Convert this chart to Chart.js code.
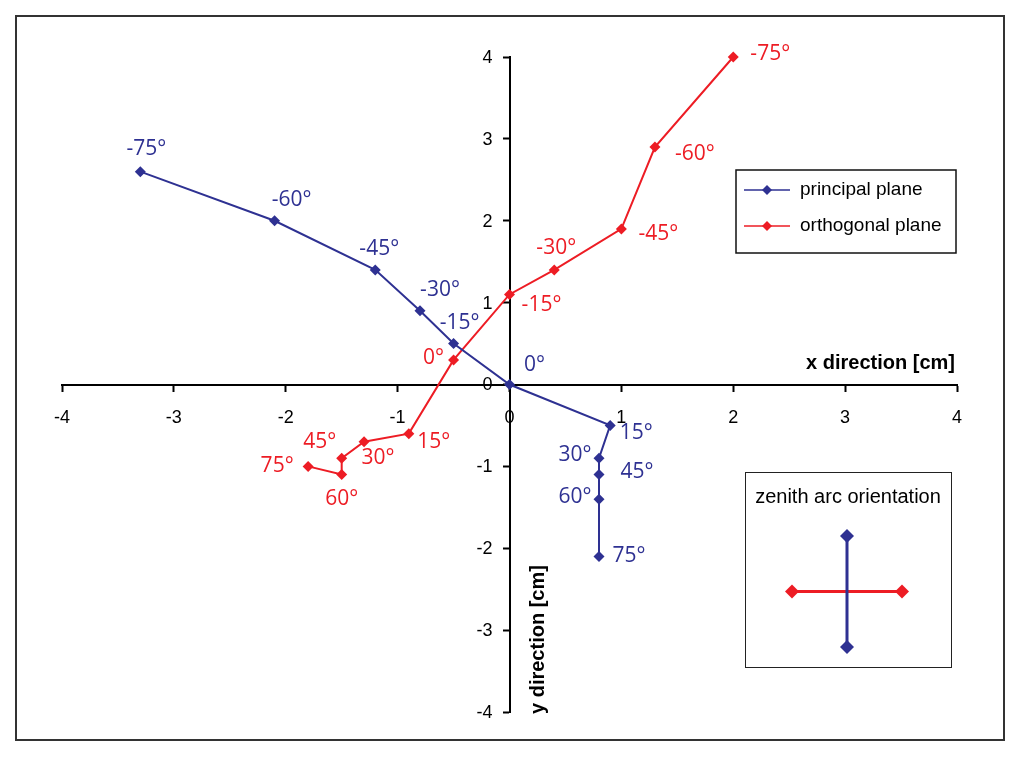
<!DOCTYPE html>
<html>
<head>
<meta charset="utf-8">
<script src="https://cdn.jsdelivr.net/npm/chart.js@4"></script>
<style>
body{margin:0;background:#fff;}
#wrap{position:relative;width:1024px;height:764px;}
#frame{position:absolute;left:15px;top:15px;width:990px;height:726px;border:2px solid #333;box-sizing:border-box;pointer-events:none;}
#inset{position:absolute;left:745px;top:472px;width:207px;height:196px;border:1.5px solid #222;box-sizing:border-box;background:#fff;}
canvas{display:block;}
</style>
</head>
<body>
<div id="wrap">
  <canvas id="main" width="1024" height="764"></canvas>
  <div id="frame"></div>
  <div id="inset"><canvas id="insetChart" width="204" height="193"></canvas></div>
</div>
<script>
// angulos de cada punto
const angulos = ['-75°','-60°','-45°','-30°','-15°','0°','15°','30°','45°','60°','75°'];

// principal plane
const principalX = [-3.3, -2.1, -1.2, -0.8, -0.5, 0, 0.9, 0.8, 0.8, 0.8, 0.8];
const principalY = [2.6, 2.0, 1.4, 0.9, 0.5, 0, -0.5, -0.9, -1.1, -1.4, -2.1];

// orthogonal plane
const orthoX = [2.0, 1.3, 1.0, 0.4, 0, -0.5, -0.9, -1.3, -1.5, -1.5, -1.8];
const orthoY = [4.0, 2.9, 1.9, 1.4, 1.1, 0.3, -0.6, -0.7, -0.9, -1.1, -1.0];

const ejeTicks = [-4, -3, -2, -1, 0, 1, 2, 3, 4];

// inset: zenith arc orientation
const insetPrincipal = [{x: 0, y: 1}, {x: 0, y: -1}];
const insetOrtho = [{x: -1, y: 0}, {x: 1, y: 0}];

// desplazamiento de las etiquetas (px)
const offPrincipal = [[6,-23],[17,-21],[4,-21],[20,-21],[6,-21],[25,-19],[26,8],[-24,-3],[38,-3],[-24,-2],[30,0]];
const offOrtho = [[37,-3],[40,7],[37,5],[2,-22],[32,11],[-20,-2],[25,8],[14,16],[-22,-16],[0,24],[-31,0]];

const AZUL = '#2E3192';
const ROJO = '#ED1C24';

function puntos(xs, ys) {
  return xs.map((x, i) => ({x: x, y: ys[i]}));
}

const etiquetasPlugin = {
  id: 'etiquetas',
  afterDatasetsDraw(chart) {
    const ctx = chart.ctx;
    ctx.save();
    ctx.font = '21px "Open Sans"';
    ctx.textAlign = 'center';
    ctx.textBaseline = 'middle';
    chart.data.datasets.forEach((ds, d) => {
      const meta = chart.getDatasetMeta(d);
      const offs = d === 0 ? offPrincipal : offOrtho;
      ctx.fillStyle = ds.borderColor;
      meta.data.forEach((p, i) => {
        ctx.fillText(angulos[i], p.x + offs[i][0], p.y + offs[i][1]);
      });
    });
    ctx.restore();
  }
};

const extrasPlugin = {
  id: 'extras',
  afterDraw(chart) {
    const ctx = chart.ctx;
    const a = chart.chartArea;
    const sx = chart.scales.x, sy = chart.scales.y;
    const x0 = sx.getPixelForValue(0), y0 = sy.getPixelForValue(0);
    ctx.save();
    // etiquetas del eje y (a la izquierda del eje)
    ctx.fillStyle = '#000';
    ctx.font = '18px "Liberation Sans"';
    ctx.textAlign = 'right';
    ctx.textBaseline = 'middle';
    sy.ticks.forEach(t => {
      ctx.fillText(String(t.value), x0 - 17, sy.getPixelForValue(t.value) + 1);
    });
    // titulos de ejes
    ctx.font = 'bold 20px "Liberation Sans"';
    ctx.fillText('x direction [cm]', a.right - 2, y0 - 21);
    ctx.translate(x0 + 29, a.bottom + 2);
    ctx.rotate(-Math.PI / 2);
    ctx.textAlign = 'left';
    ctx.fillText('y direction [cm]', 0, 0);
    ctx.restore();

    // leyenda
    ctx.save();
    const bx = a.right - 221, by = a.top + 113, bw = 220, bh = 83;
    ctx.strokeStyle = '#111';
    ctx.lineWidth = 1.5;
    ctx.strokeRect(bx, by, bw, bh);
    ctx.font = '19px "Liberation Sans"';
    ctx.textAlign = 'left';
    ctx.textBaseline = 'middle';
    chart.data.datasets.forEach((ds, i) => {
      const yy = by + 20 + i * 36;
      ctx.strokeStyle = ds.borderColor;
      ctx.lineWidth = 1.5;
      ctx.beginPath();
      ctx.moveTo(bx + 8, yy);
      ctx.lineTo(bx + 54, yy);
      ctx.stroke();
      ctx.fillStyle = ds.borderColor;
      ctx.beginPath();
      ctx.moveTo(bx + 31, yy - 5);
      ctx.lineTo(bx + 36, yy);
      ctx.lineTo(bx + 31, yy + 5);
      ctx.lineTo(bx + 26, yy);
      ctx.closePath();
      ctx.fill();
      ctx.fillStyle = '#000';
      ctx.fillText(ds.label, bx + 64, yy);
    });
    ctx.restore();
  }
};

function escala(pos, mostrar) {
  return {
    type: 'linear',
    min: -4,
    max: 4,
    position: pos,
    afterBuildTicks: (s) => { s.ticks = ejeTicks.map(v => ({value: v})); },
    ticks: {
      display: mostrar,
      color: '#000',
      font: {family: 'Liberation Sans', size: 18},
      padding: 17,
      maxRotation: 0,
      autoSkip: false
    },
    grid: {drawOnChartArea: false, drawTicks: true, tickLength: 6, tickColor: '#000', tickWidth: 2},
    border: {display: true, color: '#000', width: 2}
  };
}

new Chart(document.getElementById('main'), {
  type: 'scatter',
  data: {
    datasets: [
      {
        label: 'principal plane',
        data: puntos(principalX, principalY),
        showLine: true,
        borderColor: AZUL,
        backgroundColor: AZUL,
        borderWidth: 2,
        pointStyle: 'rectRot',
        pointRadius: 5.5,
        pointBorderWidth: 0,
        clip: false
      },
      {
        label: 'orthogonal plane',
        data: puntos(orthoX, orthoY),
        showLine: true,
        borderColor: ROJO,
        backgroundColor: ROJO,
        borderWidth: 2,
        pointStyle: 'rectRot',
        pointRadius: 5.5,
        pointBorderWidth: 0,
        clip: false
      }
    ]
  },
  options: {
    responsive: false,
    animation: false,
    layout: {padding: {left: 62, right: 67, top: 57, bottom: 52}},
    scales: {
      x: escala({y: 0}, true),
      y: escala({x: 0}, false)
    },
    plugins: {legend: {display: false}, tooltip: {enabled: false}}
  },
  plugins: [etiquetasPlugin, extrasPlugin]
});

const tituloInset = {
  id: 'tituloInset',
  afterDraw(chart) {
    const ctx = chart.ctx;
    ctx.save();
    ctx.fillStyle = '#000';
    ctx.font = '20px "Liberation Sans"';
    ctx.textAlign = 'center';
    ctx.textBaseline = 'middle';
    ctx.fillText('zenith arc orientation', chart.width / 2, 24);
    ctx.restore();
  }
};

new Chart(document.getElementById('insetChart'), {
  type: 'scatter',
  data: {
    datasets: [
      {data: insetPrincipal, showLine: true, borderColor: AZUL, backgroundColor: AZUL, borderWidth: 3,
       pointStyle: 'rectRot', pointRadius: 7, pointBorderWidth: 0, clip: false},
      {data: insetOrtho, showLine: true, borderColor: ROJO, backgroundColor: ROJO, borderWidth: 3,
       pointStyle: 'rectRot', pointRadius: 7, pointBorderWidth: 0, clip: false}
    ]
  },
  options: {
    responsive: false,
    animation: false,
    layout: {padding: {left: 46, right: 48, top: 63, bottom: 19}},
    scales: {
      x: {display: false, min: -1, max: 1},
      y: {display: false, min: -1, max: 1}
    },
    plugins: {legend: {display: false}, tooltip: {enabled: false}}
  },
  plugins: [tituloInset]
});
</script>
</body>
</html>
